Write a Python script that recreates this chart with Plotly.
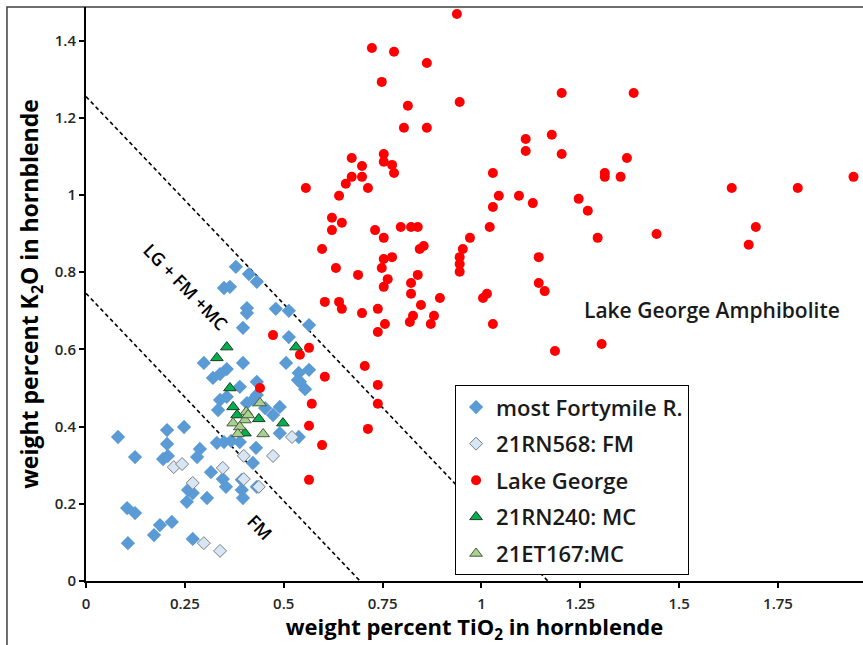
import plotly.graph_objects as go

# ---- data (weight percent) ----
fm_x = [0.379, 0.412, 0.432, 0.349, 0.364, 0.407, 0.407, 0.480, 0.513, 0.397, 0.564, 0.513,
        0.298, 0.397, 0.506, 0.321, 0.339, 0.356, 0.432, 0.538, 0.536, 0.564, 0.554, 0.356,
        0.339, 0.432, 0.453, 0.490, 0.407, 0.422, 0.473, 0.490, 0.538, 0.081, 0.205, 0.248,
        0.205, 0.195, 0.207, 0.124, 0.288, 0.281, 0.316, 0.346, 0.354, 0.258, 0.270, 0.255,
        0.306, 0.394, 0.394, 0.397, 0.432, 0.104, 0.124, 0.187, 0.217, 0.172, 0.270, 0.106,
        0.331, 0.349, 0.367, 0.389, 0.430, 0.422, 0.389, 0.334, 0.541]
fm_y = [0.814, 0.795, 0.775, 0.759, 0.762, 0.707, 0.694, 0.705, 0.700, 0.656, 0.663, 0.632,
        0.565, 0.565, 0.565, 0.526, 0.536, 0.549, 0.516, 0.539, 0.521, 0.547, 0.497, 0.477,
        0.469, 0.482, 0.448, 0.451, 0.461, 0.469, 0.430, 0.383, 0.373, 0.373, 0.391, 0.399,
        0.355, 0.316, 0.324, 0.321, 0.342, 0.321, 0.282, 0.264, 0.244, 0.236, 0.228, 0.205,
        0.215, 0.262, 0.236, 0.215, 0.244, 0.189, 0.176, 0.145, 0.153, 0.119, 0.109, 0.098,
        0.358, 0.360, 0.363, 0.360, 0.345, 0.306, 0.503, 0.443, 0.516]

rn568_x = [0.222, 0.243, 0.270, 0.346, 0.399, 0.399, 0.437, 0.298, 0.339, 0.473, 0.521]
rn568_y = [0.295, 0.303, 0.254, 0.293, 0.324, 0.264, 0.244, 0.098, 0.078, 0.324, 0.373]

lg_x = [0.938, 0.723, 0.779, 0.862, 0.748, 0.945, 1.203, 0.814, 0.804, 0.862, 1.112, 1.112,
        1.178, 1.203, 0.672, 0.753, 0.753, 0.774, 0.779, 0.698, 0.672, 0.698, 0.657, 0.713,
        0.556, 0.640, 1.029, 1.044, 1.029, 1.095, 1.130, 1.246, 0.622, 0.647, 0.622, 0.731,
        0.753, 0.796, 0.822, 0.839, 1.021, 0.597, 0.844, 0.854, 0.971, 0.953, 0.945, 0.945,
        0.945, 0.753, 0.774, 0.748, 0.632, 0.688, 0.763, 0.753, 0.839, 0.822, 0.822, 1.145,
        1.145, 1.160, 1.014, 1.004, 0.895, 0.604, 0.640, 0.647, 0.698, 0.738, 0.847, 0.880,
        0.827, 0.819, 0.756, 0.738, 0.872, 1.029, 1.385, 1.368, 1.312, 1.312, 1.352, 1.269,
        1.294, 1.443, 1.633, 1.800, 1.941, 1.694, 1.676, 1.186, 0.564, 0.541, 0.705, 0.604,
        0.738, 0.738, 0.571, 0.564, 0.713, 0.597, 0.564, 1.304, 0.473, 0.440]
lg_y = [1.469, 1.381, 1.371, 1.342, 1.293, 1.241, 1.264, 1.231, 1.174, 1.174, 1.145, 1.114,
        1.156, 1.106, 1.096, 1.106, 1.086, 1.078, 1.057, 1.075, 1.047, 1.047, 1.029, 1.018,
        1.018, 0.998, 1.057, 0.998, 0.969, 0.998, 0.979, 0.990, 0.941, 0.928, 0.909, 0.909,
        0.889, 0.917, 0.917, 0.917, 0.917, 0.860, 0.860, 0.868, 0.889, 0.860, 0.839, 0.821,
        0.801, 0.834, 0.839, 0.811, 0.811, 0.793, 0.782, 0.762, 0.793, 0.772, 0.744, 0.839,
        0.772, 0.751, 0.744, 0.733, 0.733, 0.723, 0.723, 0.705, 0.694, 0.705, 0.715, 0.687,
        0.687, 0.671, 0.666, 0.645, 0.666, 0.666, 1.264, 1.096, 1.057, 1.047, 1.047, 0.959,
        0.889, 0.899, 1.018, 1.018, 1.047, 0.917, 0.871, 0.596, 0.604, 0.586, 0.557, 0.529,
        0.508, 0.459, 0.459, 0.402, 0.394, 0.352, 0.262, 0.614, 0.637, 0.500]

rn240_x = [0.356, 0.331, 0.364, 0.372, 0.382, 0.402, 0.437, 0.498, 0.531]
rn240_y = [0.606, 0.578, 0.500, 0.451, 0.430, 0.383, 0.420, 0.409, 0.606]

et167_x = [0.440, 0.405, 0.402, 0.372, 0.389, 0.384, 0.448, 0.410]
et167_y = [0.461, 0.438, 0.417, 0.409, 0.399, 0.381, 0.381, 0.430]

upper_line_x = [0.0, 1.168]
upper_line_y = [1.255, 0.0]
lower_line_x = [0.0, 0.693]
lower_line_y = [0.745, 0.0]

x_ticks = [0, 0.25, 0.5, 0.75, 1, 1.25, 1.5, 1.75]
x_tick_text = ["0", "0.25", "0.5", "0.75", "1", "1.25", "1.5", "1.75"]
y_ticks = [0, 0.2, 0.4, 0.6, 0.8, 1.0, 1.2, 1.4]
y_tick_text = ["0", "0.2", "0.4", "0.6", "0.8", "1", "1.2", "1.4"]

FONT = "Open Sans"

fig = go.Figure()

fig.add_trace(go.Scatter(x=upper_line_x, y=upper_line_y, mode="lines", showlegend=False,
                         line=dict(color="black", width=1.6, dash="4px,3px"), hoverinfo="skip"))
fig.add_trace(go.Scatter(x=lower_line_x, y=lower_line_y, mode="lines", showlegend=False,
                         line=dict(color="black", width=1.6, dash="4px,3px"), hoverinfo="skip"))

fig.add_trace(go.Scatter(x=fm_x, y=fm_y, mode="markers", name="most Fortymile R.", legendgroup="a",
                         marker=dict(symbol="diamond", size=11, color="#5B9BD5", line=dict(width=0))))
fig.add_trace(go.Scatter(x=rn568_x, y=rn568_y, mode="markers", name="21RN568: FM", legendgroup="b",
                         marker=dict(symbol="diamond", size=10, color="#D6E6F5",
                                     line=dict(width=1, color="#7F7F7F"))))
fig.add_trace(go.Scatter(x=lg_x, y=lg_y, mode="markers", name="Lake George", legendgroup="c",
                         marker=dict(symbol="circle", size=10, color="#FF0000", line=dict(width=0))))
fig.add_trace(go.Scatter(x=rn240_x, y=rn240_y, mode="markers", name="21RN240: MC", legendgroup="d",
                         marker=dict(symbol="triangle-up", size=11, color="#00B050",
                                     line=dict(width=1, color="#1E3B1E"))))
fig.add_trace(go.Scatter(x=et167_x, y=et167_y, mode="markers", name="21ET167:MC", legendgroup="e",
                         marker=dict(symbol="triangle-up", size=11, color="#A9D18E",
                                     line=dict(width=1, color="#4A5A40"))))

fig.update_layout(
    width=863, height=645,
    margin=dict(l=86, r=0, t=7, b=64),
    paper_bgcolor="white", plot_bgcolor="white",
    font=dict(family=FONT, color="black"),
    showlegend=True,
    legend=dict(x=0.475, y=0.341, xanchor="left", yanchor="top",
                bgcolor="white", bordercolor="black", borderwidth=1,
                font=dict(family=FONT, size=22, color="#1a1a1a", weight=600),
                tracegroupgap=5, itemwidth=30),
    xaxis=dict(range=[0, 1.965], tickvals=x_ticks, ticktext=x_tick_text,
               showgrid=False, zeroline=False, showline=True, linecolor="black", linewidth=2,
               ticks="outside", ticklen=5, tickwidth=1.5, tickcolor="black",
               ticklabelstandoff=3,
               tickfont=dict(family=FONT, size=15, color="#262626", weight=600),
               title=dict(text="weight percent TiO<sub>2</sub> in hornblende", standoff=12,
                          font=dict(family=FONT, size=22, color="black", weight="bold"))),
    yaxis=dict(range=[0, 1.487], tickvals=y_ticks, ticktext=y_tick_text,
               showgrid=False, zeroline=False, showline=True, linecolor="black", linewidth=2,
               ticks="outside", ticklen=5, tickwidth=1.5, tickcolor="black",
               tickfont=dict(family=FONT, size=15, color="#262626", weight=600),
               title=dict(text="weight percent K<sub>2</sub>O in hornblende", standoff=10,
                          font=dict(family=FONT, size=23, color="black", weight="bold"))),
    annotations=[
        dict(x=0.253, y=0.762, text="LG + FM +MC", showarrow=False, textangle=46,
             font=dict(family=FONT, size=18, color="black", weight=600)),
        dict(x=0.44, y=0.14, text="FM", showarrow=False, textangle=46,
             font=dict(family=FONT, size=18, color="black", weight=600)),
        dict(x=1.583, y=0.702, text="Lake George Amphibolite", showarrow=False,
             font=dict(family=FONT, size=21, color="#1a1a1a", weight=600)),
    ],
    shapes=[dict(type="rect", xref="paper", yref="paper", x0=-0.1017, x1=1.05, y0=-0.13, y1=1.0,
                 line=dict(color="#404040", width=1.5), fillcolor="rgba(0,0,0,0)", layer="below")],
)

fig.write_html("out.html")
